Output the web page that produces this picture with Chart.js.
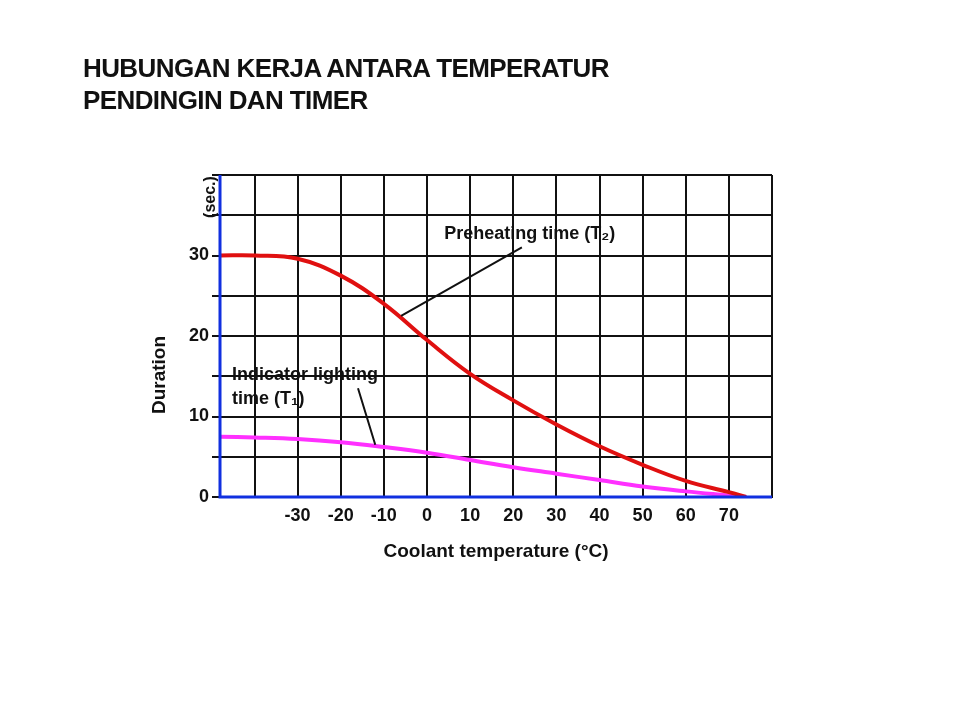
<!DOCTYPE html>
<html><head><meta charset="utf-8">
<script src="https://cdn.jsdelivr.net/npm/chart.js@4"></script>
<style>
body{margin:0;background:#fff;}
#title{position:absolute;left:83px;top:52px;font:bold 26px "Liberation Sans",Arial,sans-serif;line-height:32px;color:#111;letter-spacing:-0.6px;z-index:2}
#wrap{position:absolute;left:0;top:0;width:960px;height:720px}
</style></head>
<body>
<div id="title">HUBUNGAN KERJA ANTARA TEMPERATUR<br>PENDINGIN DAN TIMER</div>
<div id="wrap"><canvas id="c" width="960" height="720"></canvas></div>
<script>
var temps = [-48, -40, -30, -20, -10, 0, 10, 20, 30, 40, 50, 60, 70, 74];
var preheat = [30, 30, 29.6, 27.5, 24, 19.5, 15.3, 12, 9, 6.3, 4, 2, 0.6, 0];
var indicator = [7.5, 7.4, 7.2, 6.8, 6.2, 5.5, 4.6, 3.7, 2.9, 2.1, 1.3, 0.7, 0.2, 0];
var xTicks = [-30, -20, -10, 0, 10, 20, 30, 40, 50, 60, 70];
var yTicks = [0, 10, 20, 30];

var ctx = document.getElementById('c').getContext('2d');
var font = '"Liberation Sans", Arial, sans-serif';

var extras = {
	id: 'extras',
	afterDraw: function(chart) {
		var c = chart.ctx, x = chart.scales.x, y = chart.scales.y, a = chart.chartArea;
		c.save();
		// blue axes
		c.strokeStyle = '#1030e0'; c.lineWidth = 3;
		c.beginPath(); c.moveTo(a.left, a.top); c.lineTo(a.left, a.bottom); c.lineTo(a.right, a.bottom); c.stroke();
		c.fillStyle = '#111';
		c.font = 'bold 18px ' + font;
		c.textAlign = 'left';
		c.fillText('Preheating time (T\u2082)', x.getPixelForValue(4), y.getPixelForValue(32));
		c.fillText('Indicator lighting', x.getPixelForValue(-48) + 12, y.getPixelForValue(14.5));
		c.fillText('time (T\u2081)', x.getPixelForValue(-48) + 12, y.getPixelForValue(11.5));
		// arrows
		c.strokeStyle = '#111'; c.lineWidth = 2;
		c.beginPath();
		c.moveTo(x.getPixelForValue(22), y.getPixelForValue(31));
		c.lineTo(x.getPixelForValue(-6), y.getPixelForValue(22.5));
		c.moveTo(x.getPixelForValue(-16), y.getPixelForValue(13.5));
		c.lineTo(x.getPixelForValue(-12), y.getPixelForValue(6.5));
		c.stroke();
		// y titles
		c.translate(165, 0);
		c.rotate(-Math.PI / 2);
		c.textAlign = 'center';
		c.font = 'bold 19px ' + font;
		c.fillText('Duration', -375, 0);
		c.font = 'bold 16px ' + font;
		c.fillText('(sec.)', -197, 50);
		c.restore();
	}
};

new Chart(ctx, {
	type: 'line',
	data: {
		datasets: [{
			label: 'Preheating time (T2)',
			data: temps.map(function(t, i) { return {x: t, y: preheat[i]}; }),
			borderColor: '#e01010', borderWidth: 4, pointRadius: 0, tension: 0.4, fill: false
		}, {
			label: 'Indicator lighting time (T1)',
			data: temps.map(function(t, i) { return {x: t, y: indicator[i]}; }),
			borderColor: '#ff30ff', borderWidth: 4, pointRadius: 0, tension: 0.4, fill: false
		}]
	},
	plugins: [extras],
	options: {
		responsive: false, animation: false,
		layout: {padding: {left: 120, top: 175, right: 188, bottom: 153}},
		plugins: {legend: {display: false}, tooltip: {enabled: false}},
		scales: {
			x: {
				type: 'linear', min: -48, max: 80,
				afterBuildTicks: function(s) { s.ticks = [-40].concat(xTicks).concat([80]).map(function(v) { return {value: v}; }); },
				afterFit: function(s) { s.height = 70; },
				grid: {color: '#111', lineWidth: 2, drawTicks: false},
				border: {color: '#111', width: 2},
				ticks: {color: '#111', padding: 8, maxRotation: 0, autoSkip: false, font: {family: font, size: 18, weight: 'bold'},
					callback: function(v) { return xTicks.indexOf(v) >= 0 ? v : ''; }},
				title: {display: true, text: 'Coolant temperature (\u00b0C)', color: '#111', font: {family: font, size: 19, weight: 'bold'}, padding: {top: 6}}
			},
			y: {
				min: 0, max: 40,
				afterBuildTicks: function(s) { s.ticks = [0, 5, 10, 15, 20, 25, 30, 35, 40].map(function(v) { return {value: v}; }); },
				afterFit: function(s) { s.width = 100; },
				grid: {color: '#111', lineWidth: 2, drawTicks: true, tickLength: 8},
				border: {color: '#111', width: 2},
				ticks: {color: '#111', autoSkip: false, font: {family: font, size: 18, weight: 'bold'},
					callback: function(v) { return yTicks.indexOf(v) >= 0 ? v : ''; }}
			}
		}
	}
});
</script>
</body></html>
